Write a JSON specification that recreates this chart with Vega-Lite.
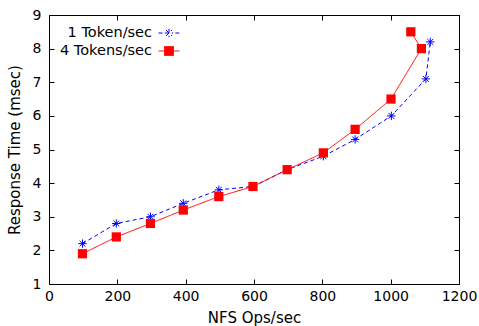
{
  "$schema": "https://vega.github.io/schema/vega-lite/v6.json",
  "width": 410,
  "height": 269,
  "autosize": {"type": "none"},
  "padding": {"left": 49, "top": 15, "right": 20, "bottom": 42},
  "background": "white",
  "config": {
    "font": "DejaVu Sans",
    "view": {"stroke": "black", "strokeWidth": 1},
    "axis": {
      "grid": false,
      "domainColor": "black",
      "tickColor": "black",
      "labelColor": "black",
      "titleColor": "black",
      "labelFontSize": 14,
      "titleFontSize": 15,
      "titleFontWeight": "normal",
      "tickSize": -5,
      "labelFont": "DejaVu Sans",
      "titleFont": "DejaVu Sans"
    }
  },
  "data": {
    "values": [
      {"series": "1 Token/sec", "ops": 98, "rt": 2.2},
      {"series": "1 Token/sec", "ops": 197, "rt": 2.8},
      {"series": "1 Token/sec", "ops": 297, "rt": 3.0},
      {"series": "1 Token/sec", "ops": 393, "rt": 3.4},
      {"series": "1 Token/sec", "ops": 497, "rt": 3.8},
      {"series": "1 Token/sec", "ops": 597, "rt": 3.9},
      {"series": "1 Token/sec", "ops": 697, "rt": 4.4},
      {"series": "1 Token/sec", "ops": 803, "rt": 4.8},
      {"series": "1 Token/sec", "ops": 896, "rt": 5.3},
      {"series": "1 Token/sec", "ops": 1002, "rt": 6.0},
      {"series": "1 Token/sec", "ops": 1103, "rt": 7.1},
      {"series": "1 Token/sec", "ops": 1116, "rt": 8.2},
      {"series": "4 Tokens/sec", "ops": 98, "rt": 1.9},
      {"series": "4 Tokens/sec", "ops": 197, "rt": 2.4},
      {"series": "4 Tokens/sec", "ops": 297, "rt": 2.8},
      {"series": "4 Tokens/sec", "ops": 393, "rt": 3.2},
      {"series": "4 Tokens/sec", "ops": 497, "rt": 3.6},
      {"series": "4 Tokens/sec", "ops": 597, "rt": 3.9},
      {"series": "4 Tokens/sec", "ops": 697, "rt": 4.4},
      {"series": "4 Tokens/sec", "ops": 803, "rt": 4.9},
      {"series": "4 Tokens/sec", "ops": 896, "rt": 5.6},
      {"series": "4 Tokens/sec", "ops": 1001, "rt": 6.5},
      {"series": "4 Tokens/sec", "ops": 1090, "rt": 8.0},
      {"series": "4 Tokens/sec", "ops": 1059, "rt": 8.5}
    ]
  },
  "resolve": {"axis": {"x": "independent", "y": "independent"}},
  "layer": [
    {
      "mark": {"type": "line", "strokeWidth": 1},
      "encoding": {
        "x": {
          "field": "ops", "type": "quantitative",
          "scale": {"domain": [0, 1200], "nice": false, "zero": false},
          "axis": {"orient": "bottom", "values": [0, 200, 400, 600, 800, 1000, 1200], "format": "d", "title": "NFS Ops/sec", "labelPadding": 10, "titlePadding": 7, "labelFlush": false}
        },
        "y": {
          "field": "rt", "type": "quantitative",
          "scale": {"domain": [1, 9], "nice": false, "zero": false},
          "axis": {"orient": "left", "values": [1, 2, 3, 4, 5, 6, 7, 8, 9], "format": "d", "title": "Response Time (msec)", "labelPadding": 13, "titlePadding": 10}
        },
        "color": {
          "field": "series", "type": "nominal",
          "scale": {"domain": ["1 Token/sec", "4 Tokens/sec"], "range": ["#0000ff", "#ff0000"]},
          "legend": {
            "orient": "none",
            "legendX": 100,
            "legendY": 7,
            "title": null,
            "padding": 0,
            "labelAlign": "right",
            "labelOffset": -28,
            "symbolOffset": 9,
            "symbolSize": 441,
            "symbolStrokeWidth": 1,
            "labelFontSize": 14.5,
            "labelFont": "DejaVu Sans",
            "labelColor": "black",
            "rowPadding": -2,
            "encode": {
              "symbols": {
                "update": {
                  "shape": {"signal": "datum.value === '1 Token/sec' ? 'M-1,0H-0.6M0.6,0H1M-0.4,0H0.4M0,-0.4V0.4M-0.28,-0.28L0.28,0.28M-0.28,0.28L0.28,-0.28' : 'M-1,0H1M-0.43,-0.43H0.43V0.43H-0.43Z'"},
                  "fill": {"signal": "datum.value === '4 Tokens/sec' ? '#ff0000' : 'transparent'"},
                  "strokeDash": {"value": [1, 0]}
                }
              }
            }
          }
        },
        "strokeDash": {
          "field": "series", "type": "nominal",
          "scale": {"domain": ["1 Token/sec", "4 Tokens/sec"], "range": [[4, 3], [1, 0]]},
          "legend": null
        },
        "order": {"value": null}
      }
    },
    {
      "transform": [{"filter": "datum.series === '1 Token/sec'"}],
      "mark": {
        "type": "point",
        "shape": "M-1,0H1M0,-1V1M-0.7,-0.7L0.7,0.7M-0.7,0.7L0.7,-0.7",
        "size": 70,
        "filled": false,
        "color": "#0000ff",
        "strokeWidth": 1,
        "opacity": 1
      },
      "encoding": {
        "x": {"field": "ops", "type": "quantitative", "axis": {"orient": "top", "labels": false, "title": null, "values": [0, 200, 400, 600, 800, 1000, 1200]}},
        "y": {"field": "rt", "type": "quantitative", "axis": {"orient": "right", "labels": false, "title": null, "values": [1, 2, 3, 4, 5, 6, 7, 8, 9]}}
      }
    },
    {
      "transform": [{"filter": "datum.series === '4 Tokens/sec'"}],
      "mark": {"type": "square", "size": 85, "color": "#ff0000", "filled": true, "opacity": 1},
      "encoding": {
        "x": {"field": "ops", "type": "quantitative", "axis": null},
        "y": {"field": "rt", "type": "quantitative", "axis": null}
      }
    }
  ]
}
